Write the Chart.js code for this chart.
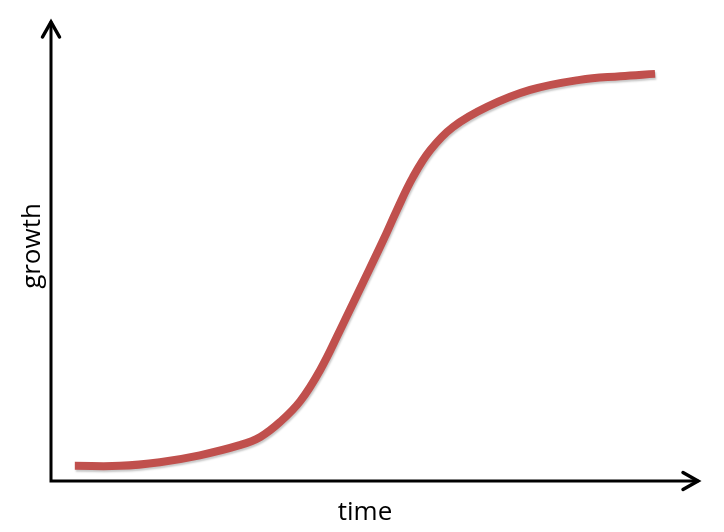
<!DOCTYPE html>
<html>
<head>
<meta charset="utf-8">
<script src="https://cdn.jsdelivr.net/npm/chart.js@4/dist/chart.umd.min.js"></script>
<style>
  html, body { margin: 0; padding: 0; background: #fff; }
  #wrap { width: 724px; height: 532px; position: relative; }
</style>
</head>
<body>
<div id="wrap"><canvas id="chart" width="724" height="532"></canvas></div>
<script>
// growth curve (x: time 0-100, y: growth 0-100)
const timeValues = [3.7, 10.7, 16.9, 23.1, 29.3, 32.5, 35.6, 38.7, 41.8, 44.9, 48.4, 51.6, 53.7, 56.2, 58.9, 62.4, 67.7, 74.4, 82.1, 88.4, 93.8];
const growthValues = [3.3, 3.3, 4.1, 5.6, 7.8, 9.6, 12.9, 17.4, 24.2, 32.9, 43.1, 52.5, 59.0, 66.2, 72.1, 77.1, 81.5, 85.2, 87.4, 88.2, 88.7];
const xLabel = 'time';
const yLabel = 'growth';

const points = timeValues.map((t, i) => ({ x: t, y: growthValues[i] }));

// draws the arrowed axes and their labels
const arrowAxes = {
    id: 'arrowAxes',
    beforeDatasetsDraw(chart) {
        const ctx = chart.ctx;
        const a = chart.chartArea;
        ctx.save();
        ctx.strokeStyle = '#000';
        ctx.lineWidth = 3;
        ctx.lineCap = 'square';
        ctx.beginPath();
        ctx.moveTo(a.left, a.top + 1);
        ctx.lineTo(a.left, a.bottom);
        ctx.lineTo(a.right + 2, a.bottom);
        ctx.stroke();

        ctx.lineWidth = 3.5;
        ctx.lineCap = 'round';
        ctx.beginPath();
        ctx.moveTo(a.left - 8.5, a.top + 15);
        ctx.lineTo(a.left, a.top);
        ctx.lineTo(a.left + 8.5, a.top + 15);
        ctx.stroke();
        ctx.beginPath();
        ctx.moveTo(a.right - 12, a.bottom - 8.5);
        ctx.lineTo(a.right + 3, a.bottom);
        ctx.lineTo(a.right - 12, a.bottom + 8.5);
        ctx.stroke();

        ctx.fillStyle = '#000';
        ctx.font = '26px "Open Sans", sans-serif';
        ctx.textAlign = 'center';
        ctx.textBaseline = 'alphabetic';
        ctx.fillText(xLabel, 365, 520);
        ctx.translate(40, 246);
        ctx.rotate(-Math.PI / 2);
        ctx.fillText(yLabel, 0, 0);
        ctx.restore();
    },
    beforeDatasetDraw(chart) {
        const ctx = chart.ctx;
        ctx.save();
        ctx.shadowColor = 'rgba(0,0,0,0.22)';
        ctx.shadowOffsetX = 1;
        ctx.shadowOffsetY = 2;
        ctx.shadowBlur = 2;
    },
    afterDatasetDraw(chart) {
        chart.ctx.restore();
    }
};

new Chart(document.getElementById('chart'), {
    type: 'line',
    data: {
        datasets: [{
            data: points,
            borderColor: '#c0504d',
            borderWidth: 8,
            borderCapStyle: 'butt',
            pointRadius: 0,
            tension: 0.4,
            fill: false
        }]
    },
    options: {
        responsive: false,
        animation: false,
        layout: { padding: { left: 51, right: 29, top: 22, bottom: 51 } },
        plugins: { legend: { display: false }, tooltip: { enabled: false } },
        scales: {
            x: { type: 'linear', min: 0, max: 100, display: false },
            y: { type: 'linear', min: 0, max: 100, display: false }
        }
    },
    plugins: [arrowAxes]
});
</script>
</body>
</html>
